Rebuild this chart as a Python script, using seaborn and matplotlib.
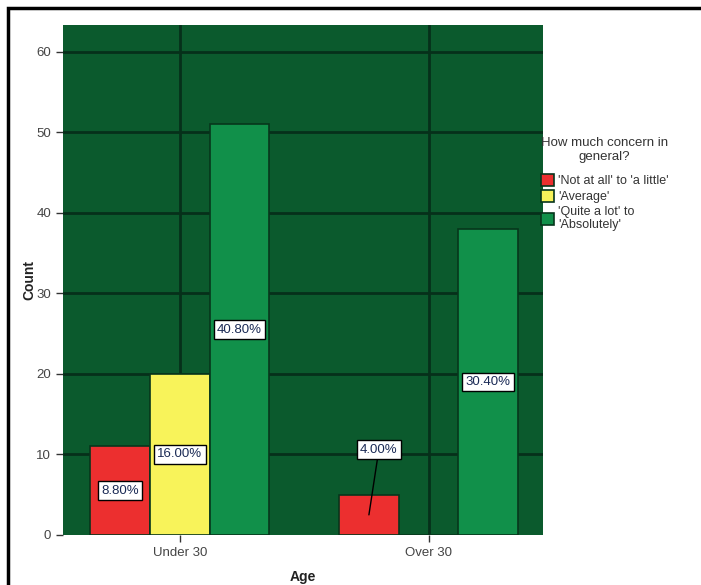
import matplotlib
matplotlib.use("Agg")
import matplotlib.pyplot as plt
import seaborn as sns
import pandas as pd

# data
ages = ["Under 30", "Over 30"]
concern_levels = ["'Not at all' to 'a little'", "'Average'", "'Quite a lot' to\n'Absolutely'"]
under_30_counts = [11, 20, 51]
over_30_counts = [5, 0, 38]
y_ticks = [0, 10, 20, 30, 40, 50, 60]

colors = ["#ec2f2f", "#f8f35a", "#11904a"]
bg_color = "#0b5a2d"
grid_color = "#06301a"

rows = []
for age, counts in zip(ages, [under_30_counts, over_30_counts]):
    for level, c in zip(concern_levels, counts):
        rows.append({"Age": age, "Concern": level, "Count": c})
df = pd.DataFrame(rows)
total = df["Count"].sum()

sns.set_theme(style="white")
plt.rcParams["font.family"] = ["Liberation Sans", "DejaVu Sans"]

fig = plt.figure(figsize=(7.01, 5.85), dpi=100)
ax = fig.add_axes([0.0899, 0.0855, 0.6847, 0.8718])
ax.set_facecolor(bg_color)

sns.barplot(data=df, x="Age", y="Count", hue="Concern", order=ages,
            hue_order=concern_levels, palette=colors, saturation=1,
            width=0.72, gap=0, edgecolor="#07361c", linewidth=1.2,
            ax=ax, zorder=3)

ax.set_xlim(-0.47, 1.46)
ax.set_ylim(0, 63.35)
ax.set_yticks(y_ticks)
for y in y_ticks[1:]:
    ax.axhline(y, color=grid_color, lw=2, zorder=2)
for x in range(len(ages)):
    ax.axvline(x, color=grid_color, lw=2, zorder=2)

# percentage labels at half height of each bar
for container in ax.containers:
    for bar in container:
        h = bar.get_height()
        if h <= 0:
            continue
        cx = bar.get_x() + bar.get_width() / 2
        txt = f"{h / total * 100:.2f}%"
        box = dict(boxstyle="square,pad=0.25", fc="white", ec="black", lw=1)
        if h < 8:
            ax.annotate(txt, xy=(cx, h / 2), xytext=(cx + 0.04, h / 2 + 8.1),
                        ha="center", va="center", fontsize=9.5, color="#1a2a55",
                        bbox=box, zorder=6,
                        arrowprops=dict(arrowstyle="-", color="black", lw=1,
                                        shrinkA=0, shrinkB=0))
        else:
            ax.text(cx, h / 2, txt, ha="center", va="center", fontsize=9.5,
                    color="#1a2a55", bbox=box, zorder=6)

for s in ax.spines.values():
    s.set_visible(False)

ax.tick_params(axis="both", which="both", length=5, width=1, color="#333333",
               labelsize=9.5, labelcolor="#444444", left=True, bottom=True)
ax.set_xlabel("Age", fontsize=10, fontweight="bold", color="#222222", labelpad=8)
ax.set_ylabel("Count", fontsize=10, fontweight="bold", color="#222222", labelpad=0)

leg = ax.legend(title="How much concern in\ngeneral?", loc="upper left",
                bbox_to_anchor=(0.995, 0.78), frameon=False, fontsize=9,
                title_fontsize=9.5, handlelength=1.1, handleheight=1.1,
                handletextpad=0.3, labelspacing=0.2, borderaxespad=0,
                borderpad=0)
leg._legend_box.sep = 8
leg.get_title().set_multialignment("center")
for t in leg.get_texts():
    t.set_color("#333333")
leg.get_title().set_color("#333333")

# outer frame around the figure
fig.patches.append(plt.Rectangle((8 / 701, -0.05), 1.1, 1 - 8 / 585 + 0.05,
                                 transform=fig.transFigure, fill=False,
                                 ec="black", lw=2.5))

fig.savefig("out.png", dpi=100)
